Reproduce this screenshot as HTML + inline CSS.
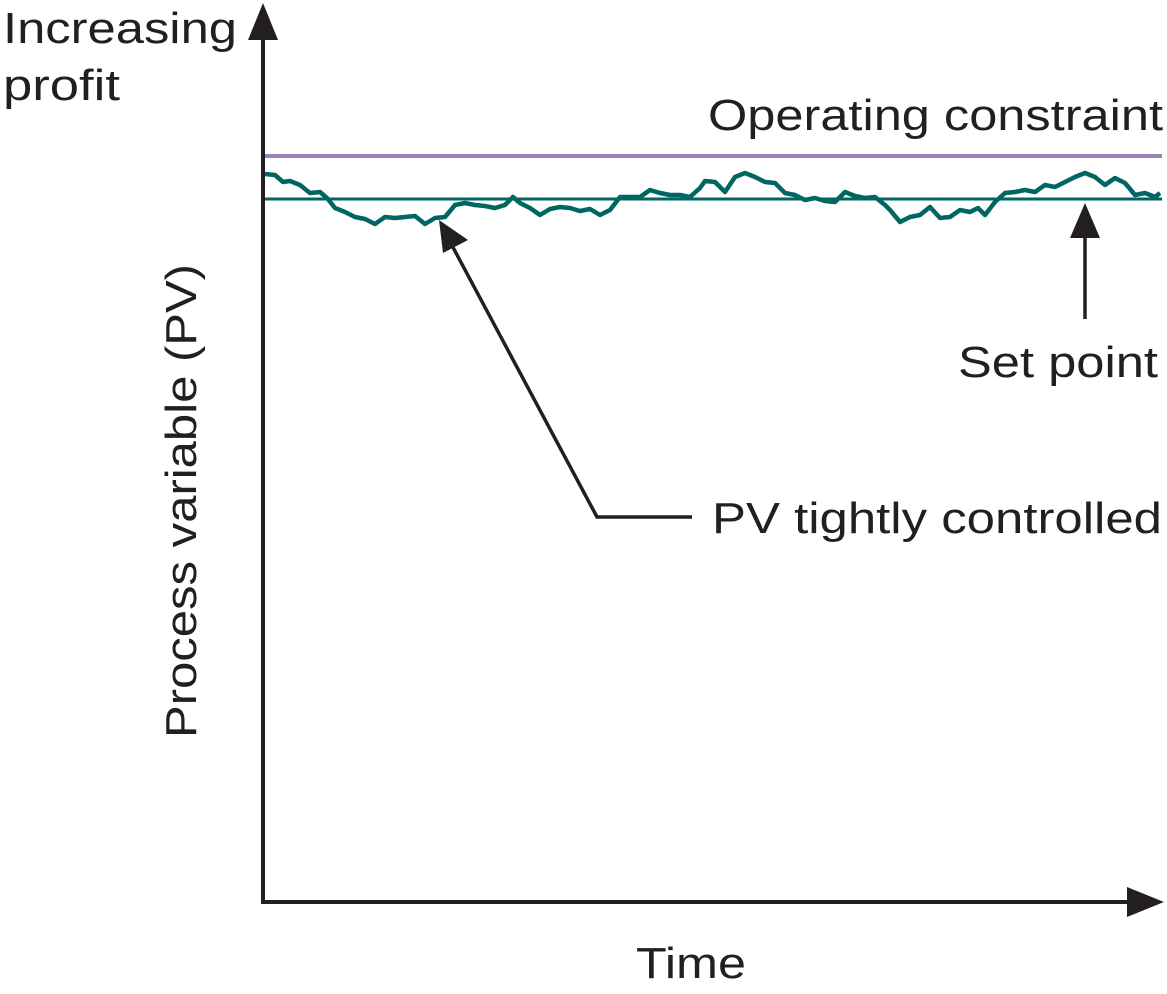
<!DOCTYPE html>
<html><head><meta charset="utf-8"><style>
html,body{margin:0;padding:0;background:#fff;}
svg{display:block;font-family:"Liberation Sans",sans-serif;}
text{fill:#231f20;font-size:44px;}
</style></head><body>
<svg id="chart" width="1167" height="994" viewBox="0 0 1167 994">
<defs>
<marker id="ah" markerWidth="10" markerHeight="10" refX="9" refY="5" orient="auto" markerUnits="userSpaceOnUse" viewBox="0 0 10 10">
</marker>
</defs>
<g id="axes">
<line x1="263" y1="30" x2="263" y2="903" stroke="#231f20" stroke-width="4"/>
<polygon points="263,3 248,40 278,40" fill="#231f20"/>
<line x1="261" y1="902" x2="1135" y2="902" stroke="#231f20" stroke-width="4"/>
<polygon points="1164,902 1127,887 1127,917" fill="#231f20"/>
</g>
<line x1="265" y1="156" x2="1162" y2="156" stroke="#9b84bd" stroke-width="4"/>
<line x1="265" y1="199" x2="1162" y2="199" stroke="#006661" stroke-width="3"/>
<path id="pv" fill="none" stroke="#006661" stroke-width="4.5" stroke-linejoin="round"/>
<text x="3" y="43" textLength="234" lengthAdjust="spacingAndGlyphs">Increasing</text>
<text x="3" y="100" textLength="117" lengthAdjust="spacingAndGlyphs">profit</text>
<text x="708" y="130" textLength="455" lengthAdjust="spacingAndGlyphs">Operating constraint</text>
<text x="958" y="377" textLength="200" lengthAdjust="spacingAndGlyphs">Set point</text>
<text x="712" y="533" textLength="450" lengthAdjust="spacingAndGlyphs">PV tightly controlled</text>
<text x="636" y="978" textLength="110" lengthAdjust="spacingAndGlyphs">Time</text>
<text transform="translate(196,738) rotate(-90)" x="0" y="0" textLength="474" lengthAdjust="spacingAndGlyphs">Process variable (PV)</text>
<g>
<polyline points="692,517 597,517 448,238" fill="none" stroke="#231f20" stroke-width="3.5"/>
<polygon points="439,220 443,253 468,240" fill="#231f20"/>
</g>
<g>
<line x1="1085" y1="319" x2="1085" y2="225" stroke="#231f20" stroke-width="3.5"/>
<polygon points="1085,203 1070,238 1100,238" fill="#231f20"/>
</g>
</svg>
<script>
const times=[0,10,18,25,35,45,55,62,70,80,90,100,110,120,130,140,150,160,170,180,190,200,210,220,230,240,248,255,265,275,285,295,305,315,325,335,345,355,365,375,385,395,405,415,425,435,440,450,460,470,480,490,500,510,520,530,540,550,560,570,580,590,600,610,620,625,635,645,655,665,675,685,695,705,713,720,730,740,750,760,770,780,790,800,810,820,830,840,850,860,870,880,890,895];
const pv=[25,24,17,18,14,6,7,1,-9,-13,-18,-20,-25,-18,-19,-18,-17,-25,-19,-18,-6,-4,-6,-7,-9,-6,2,-4,-9,-16,-10,-8,-9,-12,-10,-16,-11,2,2,2,9,6,4,4,2,11,18,17,7,22,26,22,17,16,6,4,-1,1,-2,-3,7,3,1,2,-6,-11,-23,-18,-16,-8,-19,-18,-11,-13,-9,-16,-3,6,7,9,7,14,12,17,22,26,22,14,21,16,4,6,2,6,12];
const tMax=895;
function xScale(t){return 265+t/tMax*(1160-265);}
function yScale(v){return 199-v;}
const d=times.map((t,i)=>(i?'L':'M')+xScale(t).toFixed(1)+','+yScale(pv[i]).toFixed(1)).join(' ');
const p=document.getElementById('pv');
p.setAttribute('d',d);

</script>
</body></html>
